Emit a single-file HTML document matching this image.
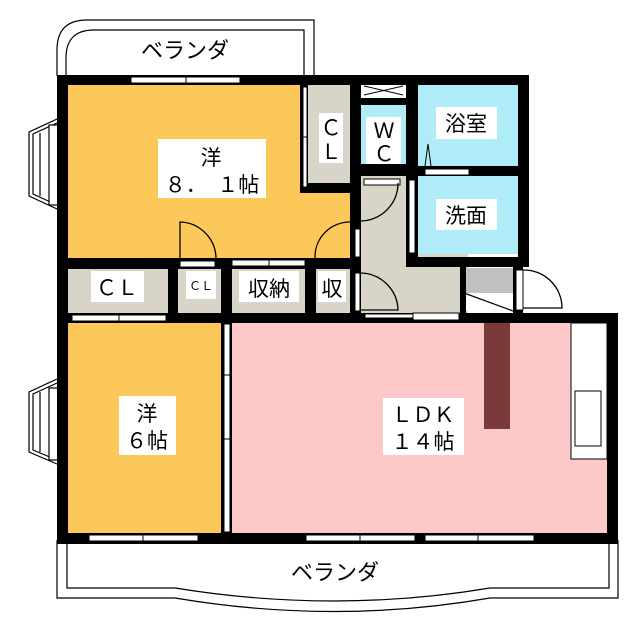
<!DOCTYPE html>
<html><head><meta charset="utf-8"><style>html,body{margin:0;padding:0;background:#fff}svg{display:block}text{font-family:"Liberation Sans","Noto Sans CJK JP",sans-serif;fill:#000}</style></head><body>
<svg width="640" height="640" viewBox="0 0 640 640" xmlns="http://www.w3.org/2000/svg">
<path d="M57,76 V50 Q57,20 87,20 H314 V76" fill="none" stroke="#000" stroke-width="1.2"/>
<path d="M66,76 V58 Q66,30 94,30 H304 V76" fill="none" stroke="#000" stroke-width="1.2"/>
<text x="185" y="58" font-size="22" text-anchor="middle">ベランダ</text>
<path d="M57,540 V598 H175 Q335,625 490,598 H618 V540" fill="none" stroke="#000" stroke-width="1.2"/>
<path d="M67,540 V588 H175 Q335,614 490,588 H609 V540" fill="none" stroke="#000" stroke-width="1.2"/>
<text x="335" y="580" font-size="22" text-anchor="middle">ベランダ</text>
<g fill="#fff" stroke="#000" stroke-width="1.2">
<path d="M57,119 L29,132 V196 L57,209"/><path d="M57,123 L33,134 V194 L57,205"/>
<rect x="49" y="125" width="9" height="80"/>
<line x1="40" y1="133" x2="40" y2="196"/>
<path d="M57,379 L29,392 V452 L57,464"/><path d="M57,383 L33,394 V450 L57,460"/>
<rect x="49" y="388" width="9" height="72"/>
<line x1="40" y1="392" x2="40" y2="452"/>
</g>
<rect x="62" y="80" width="292" height="182" fill="#fcc85a"/>
<rect x="62" y="318" width="164" height="220" fill="#fcc85a"/>
<rect x="228" y="318" width="385" height="220" fill="#fdc8c8"/>
<rect x="308" y="82" width="46" height="106" fill="#d8d4c8"/>
<rect x="62" y="263" width="300" height="52" fill="#d8d4c8"/>
<rect x="356" y="172" width="112" height="145" fill="#d8d4c8"/>
<rect x="356" y="105" width="52" height="62" fill="#b0ecf8"/>
<rect x="412" y="82" width="112" height="172" fill="#b0ecf8"/>
<rect x="464" y="268" width="51" height="25" fill="#c0c0c0"/>
<rect x="464" y="293" width="51" height="18" fill="#fff"/>
<line x1="464" y1="293" x2="513" y2="311" stroke="#000" stroke-width="1.2"/>
<g fill="#000">
<rect x="57" y="75" width="300" height="10"/>
<rect x="354" y="75" width="175" height="10"/>
<rect x="57" y="75" width="11" height="469"/>
<rect x="303" y="183" width="54" height="10"/>
<rect x="300" y="85" width="8" height="108"/>
<rect x="350" y="75" width="11" height="240"/>
<rect x="406" y="85" width="12" height="182"/>
<rect x="361" y="98" width="45" height="7"/>
<rect x="356" y="164" width="52" height="12"/>
<rect x="418" y="166" width="110" height="10"/>
<rect x="518" y="75" width="11" height="192"/>
<rect x="406" y="257" width="123" height="10"/>
<rect x="57" y="258" width="304" height="11"/>
<rect x="168" y="263" width="10" height="56"/>
<rect x="221" y="263" width="11" height="275"/>
<rect x="305" y="263" width="11" height="56"/>
<rect x="460" y="262" width="6" height="56"/>
<rect x="513" y="262" width="10" height="55"/>
<rect x="57" y="313" width="560" height="10"/>
<rect x="607" y="313" width="11" height="231"/>
<rect x="57" y="533" width="561" height="11"/>
</g>
<g fill="#fff" stroke="#000" stroke-width="1">
<rect x="131" y="77" width="109" height="6"/><line x1="186" y1="75" x2="186" y2="85"/>
<rect x="72" y="315" width="94" height="6"/><line x1="119" y1="313" x2="119" y2="323"/>
<rect x="89" y="535" width="109" height="6"/><line x1="143" y1="533" x2="143" y2="543"/>
<rect x="306" y="535" width="109" height="6"/><line x1="360" y1="533" x2="360" y2="543"/>
<rect x="425" y="535" width="109" height="6"/><line x1="478" y1="533" x2="478" y2="543"/>
<rect x="232" y="260" width="73" height="6"/><line x1="269" y1="258" x2="269" y2="268"/>
<rect x="303" y="87" width="4" height="100"/><line x1="300" y1="137" x2="308" y2="137"/>
<rect x="224" y="324" width="6" height="208"/><line x1="221" y1="375" x2="232" y2="375"/><line x1="221" y1="439" x2="232" y2="439"/>
<rect x="364" y="179" width="36" height="6"/>
<rect x="409" y="180" width="6" height="73"/>
<rect x="425" y="169" width="44" height="6"/>
<rect x="355" y="229" width="5" height="28"/>
<rect x="355" y="273" width="5" height="38"/>
<rect x="180" y="261" width="35" height="6"/>
<rect x="516" y="270" width="7" height="40"/>
<rect x="365" y="314" width="48" height="4"/>
<rect x="413" y="313" width="46" height="7"/>
</g>
<rect x="362" y="86" width="43" height="9" fill="#fff"/>
<path d="M364,86 L403,95 M364,95 L403,86" stroke="#000" stroke-width="1"/>
<path d="M425,166 L428,144 L431,166" fill="none" stroke="#000" stroke-width="1"/>
<g fill="none" stroke="#000" stroke-width="1.3">
<path d="M180,261 V222 A37,37 0 0 1 216,258"/>
<path d="M350,222 A35,35 0 0 0 315,258"/>
<path d="M361,221 A38,38 0 0 0 398,183"/>
<path d="M361,273 A38,38 0 0 1 398,310 H361"/>
<path d="M523,270 A38,38 0 0 1 562,308 H523"/>
</g>
<rect x="484" y="323" width="26" height="106" fill="#7a3a3a"/>
<rect x="571" y="323" width="36" height="136" fill="#fff" stroke="#000" stroke-width="1"/>
<rect x="575" y="391" width="26" height="55" fill="#fff" stroke="#000" stroke-width="1"/>
<g fill="#fff">
<rect x="158" y="139" width="108" height="59"/>
<rect x="119" y="396" width="57" height="59"/>
<rect x="383" y="398" width="81" height="57"/>
<rect x="91" y="271" width="53" height="31"/>
<rect x="186" y="271" width="30" height="28"/>
<rect x="239" y="271" width="60" height="31"/>
<rect x="318" y="271" width="28" height="31"/>
<rect x="319" y="113" width="24" height="50"/>
<rect x="366" y="117" width="35" height="47"/>
<rect x="436" y="107" width="61" height="32"/>
<rect x="436" y="199" width="61" height="31"/>
</g>
<g font-size="21" text-anchor="middle">
<text x="211" y="165">洋</text>
<text x="212" y="192">８．　１帖</text>
<text x="147" y="421">洋</text>
<text x="147" y="448">６帖</text>
<text x="423" y="422">ＬＤＫ</text>
<text x="423" y="449">１４帖</text>
<text x="117" y="295">ＣＬ</text>
<text x="201" y="290" font-size="12">ＣＬ</text>
<text x="269" y="296">収納</text>
<text x="332" y="296">収</text>
<text x="331" y="135">Ｃ</text>
<text x="331" y="159">Ｌ</text>
<text x="384" y="138">Ｗ</text>
<text x="384" y="161">Ｃ</text>
<text x="466" y="131">浴室</text>
<text x="466" y="223">洗面</text>
</g>
</svg>
</body></html>
